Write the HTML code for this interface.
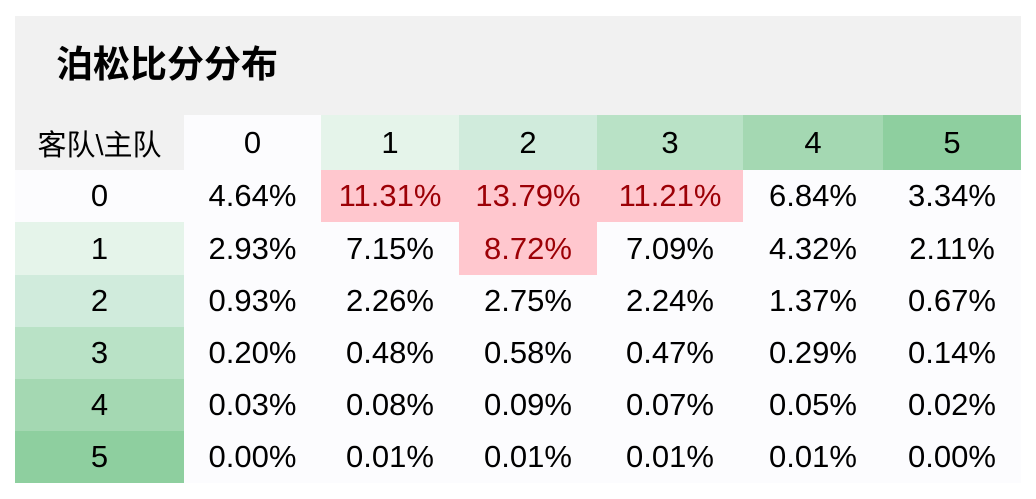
<!DOCTYPE html><html><head><meta charset="utf-8"><style>
body{margin:0;width:1036px;height:499px;background:#fff;position:relative;overflow:hidden;font-family:"Liberation Sans","Noto Sans CJK SC",sans-serif}
.p{position:absolute;left:15px;top:16px;width:1006px;height:99px;background:#f1f1f1}
.t{position:absolute;left:56px;top:40px;font-size:37px;font-weight:bold;color:#000;line-height:50px}
.c{position:absolute;display:flex;align-items:center;justify-content:center;font-size:31px;color:#000;background:#fcfcfe}
.r{background:#ffc7ce;color:#9c0006}
</style></head><body>
<div class="p"></div><div class="t">泊松比分分布</div>
<div id="g"></div>
<script>
var xs=[15,184,321,459,597,743,883,1021];
var ys=[115,170,222,275,327,379,431,483];
var hc=['#f1f1f1','#fcfcfe','#e5f4ea','#d0ebdc','#b9e2c6','#a4d8b2','#8ecf9f'];
var rc=['#fcfcfe','#e5f4ea','#d0ebdc','#b9e2c6','#a4d8b2','#8ecf9f'];
var d=[["4.64%","11.31%","13.79%","11.21%","6.84%","3.34%"],["2.93%","7.15%","8.72%","7.09%","4.32%","2.11%"],["0.93%","2.26%","2.75%","2.24%","1.37%","0.67%"],["0.20%","0.48%","0.58%","0.47%","0.29%","0.14%"],["0.03%","0.08%","0.09%","0.07%","0.05%","0.02%"],["0.00%","0.01%","0.01%","0.01%","0.01%","0.00%"]];
var red={"0,1":1,"0,2":1,"0,3":1,"1,2":1};
var h='';
function cell(c,r,txt,bg,cls,fs){h+='<div class="c '+(cls||'')+'" style="left:'+xs[c]+'px;top:'+ys[r]+'px;width:'+(xs[c+1]-xs[c])+'px;height:'+(ys[r+1]-ys[r])+'px;'+(bg?'background:'+bg+';':'')+(fs?'font-size:'+fs+'px;':'')+'">'+txt+'</div>';}
cell(0,0,'客队\\主队',hc[0],'',29);
for(var j=0;j<6;j++)cell(j+1,0,j,hc[j+1]);
for(var i=0;i<6;i++){cell(0,i+1,i,rc[i]);for(var j=0;j<6;j++){var k=red[i+','+j]?'r':'';cell(j+1,i+1,d[i][j],null,k);}}
document.getElementById('g').innerHTML=h;
</script>
</body></html>
